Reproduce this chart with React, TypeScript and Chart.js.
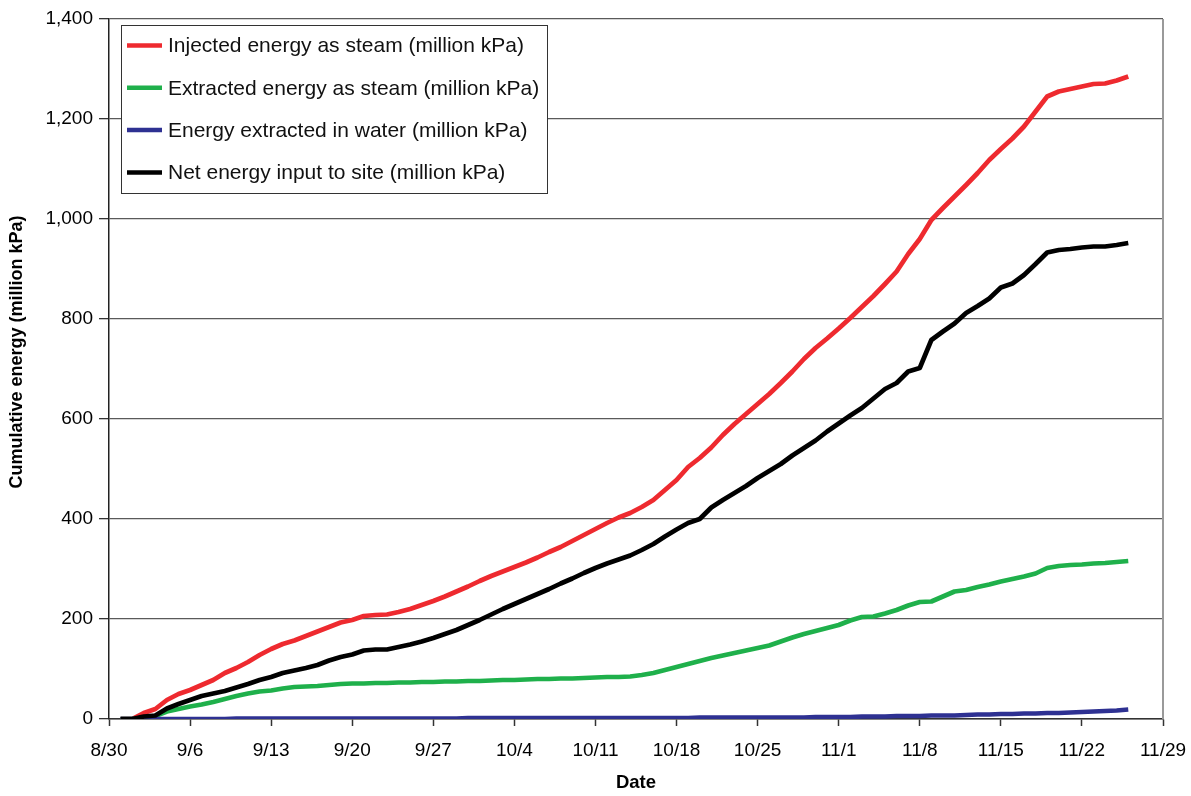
import { useEffect, useRef } from 'react';
import { Chart, registerables } from 'chart.js';

Chart.register(...registerables);

const FONT = '"Liberation Sans", Arial, Helvetica, sans-serif';

// x positions: days since 8/30
const days = [
  1, 2, 3, 4, 5, 6, 7, 8, 9, 10,
  11, 12, 13, 14, 15, 16, 17, 18, 19, 20,
  21, 22, 23, 24, 25, 26, 27, 28, 29, 30,
  31, 32, 33, 34, 35, 36, 37, 38, 39, 40,
  41, 42, 43, 44, 45, 46, 47, 48, 49, 50,
  51, 52, 53, 54, 55, 56, 57, 58, 59, 60,
  61, 62, 63, 64, 65, 66, 67, 68, 69, 70,
  71, 72, 73, 74, 75, 76, 77, 78, 79, 80,
  81, 82, 83, 84, 85, 86, 87, 88,
];

const xTickLabels = ['8/30', '9/6', '9/13', '9/20', '9/27', '10/4', '10/11', '10/18', '10/25', '11/1', '11/8', '11/15', '11/22', '11/29'];
const yTickLabels = ['0', '200', '400', '600', '800', '1,000', '1,200', '1,400'];
const xTitle = 'Date';
const yTitle = 'Cumulative energy (million kPa)';

const seriesNames = [
  'Injected energy as steam (million kPa)',
  'Extracted energy as steam (million kPa)',
  'Energy extracted in water (million kPa)',
  'Net energy input to site (million kPa)',
];
const seriesColors = ['#ee2a2f', '#1fb04b', '#2e3192', '#000000'];

const injected = [
  0, 0, 12, 20, 38, 50, 58, 68, 78, 92,
  102, 114, 128, 140, 150, 157, 166, 175, 184, 193,
  198, 206, 208, 209, 214, 220, 228, 236, 245, 255,
  265, 276, 286, 295, 304, 313, 323, 334, 344, 356,
  368, 380, 392, 403, 412, 424, 438, 458, 478, 504,
  522, 543, 568, 590, 610, 630, 650, 672, 695, 720,
  742, 761, 781, 802, 824, 846, 870, 895, 930, 960,
  998, 1022, 1045, 1068, 1092, 1118, 1140, 1161, 1185, 1215,
  1245, 1255, 1260, 1265, 1270, 1271, 1277, 1285,
];

const extractedSteam = [
  0, 0, 2, 6, 15, 20, 25, 29, 34, 40,
  46, 51, 55, 57, 61, 64, 65, 66, 68, 70,
  71, 71, 72, 72, 73, 73, 74, 74, 75, 75,
  76, 76, 77, 78, 78, 79, 80, 80, 81, 81,
  82, 83, 84, 84, 85, 88, 92, 98, 104, 110,
  116, 122, 127, 132, 137, 142, 147, 155, 163, 170,
  176, 182, 188, 197, 204, 205, 211, 218, 227, 234,
  235, 245, 255, 258, 264, 269, 275, 280, 285, 291,
  302, 306, 308, 309, 311, 312, 314, 316,
];

const extractedWater = [
  0, 0, 0, 0, 0, 0, 0, 0, 0, 0,
  1, 1, 1, 1, 1, 1, 1, 1, 1, 1,
  1, 1, 1, 1, 1, 1, 1, 1, 1, 1,
  2, 2, 2, 2, 2, 2, 2, 2, 2, 2,
  2, 2, 2, 2, 2, 2, 2, 2, 2, 2,
  3, 3, 3, 3, 3, 3, 3, 3, 3, 3,
  4, 4, 4, 4, 5, 5, 5, 6, 6, 6,
  7, 7, 7, 8, 9, 9, 10, 10, 11, 11,
  12, 12, 13, 14, 15, 16, 17, 19,
];

const netInput = [
  0, 0, 5, 7, 21, 30, 38, 46, 51, 56,
  63, 70, 78, 84, 92, 97, 102, 108, 117, 124,
  129, 137, 139, 139, 144, 149, 155, 162, 170, 178,
  188, 198, 209, 220, 230, 240, 250, 260, 271, 281,
  292, 302, 311, 319, 327, 338, 350, 365, 379, 392,
  400, 423, 438, 452, 466, 482, 496, 510, 527, 542,
  557, 575, 591, 607, 622, 641, 660, 672, 695, 702,
  758, 775, 791, 812, 826, 841, 863, 871, 888, 910,
  933, 938, 940, 943, 945, 945, 948, 952,
];

const seriesValues = [injected, extractedSteam, extractedWater, netInput];
const drawOrder = [4, 3, 2, 1];

const framePlugin = {
  id: 'frame',
  beforeDatasetsDraw(chart: any) {
    const { ctx, chartArea } = chart;
    ctx.save();
    ctx.strokeStyle = '#9a9a9a';
    ctx.lineWidth = 2;
    ctx.beginPath();
    ctx.moveTo(chartArea.right, chartArea.top);
    ctx.lineTo(chartArea.right, chartArea.bottom);
    ctx.stroke();
    ctx.restore();
  },
  afterDraw(chart: any) {
    const { ctx } = chart;
    ctx.save();
    ctx.translate(17, 352);
    ctx.rotate(-Math.PI / 2);
    ctx.font = `bold 18px ${FONT}`;
    ctx.fillStyle = '#000';
    ctx.textAlign = 'center';
    ctx.textBaseline = 'middle';
    ctx.fillText(yTitle, 0, 0);
    ctx.restore();
  },
};

const legendPlugin = {
  id: 'boxLegend',
  afterDraw(chart: any) {
    const { ctx } = chart;
    const left = 121;
    const top = 25;
    const width = 426;
    const height = 168;
    ctx.save();
    ctx.fillStyle = '#ffffff';
    ctx.fillRect(left, top, width, height);
    ctx.strokeStyle = '#333333';
    ctx.lineWidth = 1;
    ctx.strokeRect(left + 0.5, top + 0.5, width, height);
    ctx.font = `21px ${FONT}`;
    ctx.textBaseline = 'middle';
    ctx.textAlign = 'left';
    chart.data.datasets.forEach((ds: any, i: number) => {
      const y = top + 20.5 + i * 42.3;
      ctx.strokeStyle = ds.borderColor;
      ctx.lineWidth = 4.5;
      ctx.beginPath();
      ctx.moveTo(127, y);
      ctx.lineTo(162, y);
      ctx.stroke();
      ctx.fillStyle = '#111111';
      ctx.fillText(ds.label, 168, y + 1);
    });
    ctx.restore();
  },
};

export default function App() {
  const ref = useRef<HTMLCanvasElement>(null);

  useEffect(() => {
    document.body.style.margin = '0';
    const canvas = ref.current;
    if (!canvas) return;
    const datasets = seriesNames.map((name, i) => ({
      label: name,
      data: days.map((d, j) => ({ x: d, y: seriesValues[i][j] })),
      borderColor: seriesColors[i],
      backgroundColor: seriesColors[i],
      borderWidth: 4.7,
      pointRadius: 0,
      tension: 0,
      borderJoinStyle: 'round' as const,
      borderCapStyle: 'butt' as const,
      order: drawOrder[i],
      fill: false,
    }));

    const chart = new Chart(canvas, {
      type: 'line',
      data: { datasets },
      options: {
        responsive: false,
        animation: false,
        devicePixelRatio: 1,
        layout: { padding: { top: 19, right: 28, left: 0, bottom: 0 } },
        plugins: {
          legend: { display: false },
          tooltip: { enabled: false },
        },
        scales: {
          x: {
            type: 'linear',
            min: 0,
            max: 91,
            ticks: {
              stepSize: 7,
              autoSkip: false,
              maxRotation: 0,
              padding: 13,
              color: '#000',
              font: { family: FONT, size: 19 },
              callback: (v: any) => xTickLabels[Math.round(Number(v) / 7)] ?? '',
            },
            grid: {
              drawOnChartArea: false,
              drawTicks: true,
              tickLength: 7,
              color: '#333',
              tickWidth: 1.5,
            },
            border: { color: '#333', width: 1.5 },
            title: {
              display: true,
              text: xTitle,
              color: '#000',
              font: { family: FONT, size: 18.5, weight: 'bold' },
              padding: { top: 0, bottom: 2 },
            },
            afterFit: (s: any) => {
              s.height = 77;
              s.paddingLeft = 0;
              s.paddingRight = 0;
            },
          },
          y: {
            type: 'linear',
            min: 0,
            max: 1400,
            ticks: {
              stepSize: 200,
              padding: 6,
              color: '#000',
              font: { family: FONT, size: 19 },
              callback: (v: any) => yTickLabels[Math.round(Number(v) / 200)] ?? '',
            },
            grid: {
              color: '#5a5a5a',
              lineWidth: 1.3,
              tickLength: 10,
              tickColor: '#333',
            },
            border: { color: '#222', width: 1.5 },
            title: { display: false },
            afterFit: (s: any) => {
              s.width = 109;
              s.paddingTop = 0;
              s.paddingBottom = 0;
            },
          },
        },
      },
      plugins: [framePlugin, legendPlugin],
    });
    return () => chart.destroy();
  }, []);

  return <canvas ref={ref} width={1191} height={796} style={{ display: 'block' }} />;
}
